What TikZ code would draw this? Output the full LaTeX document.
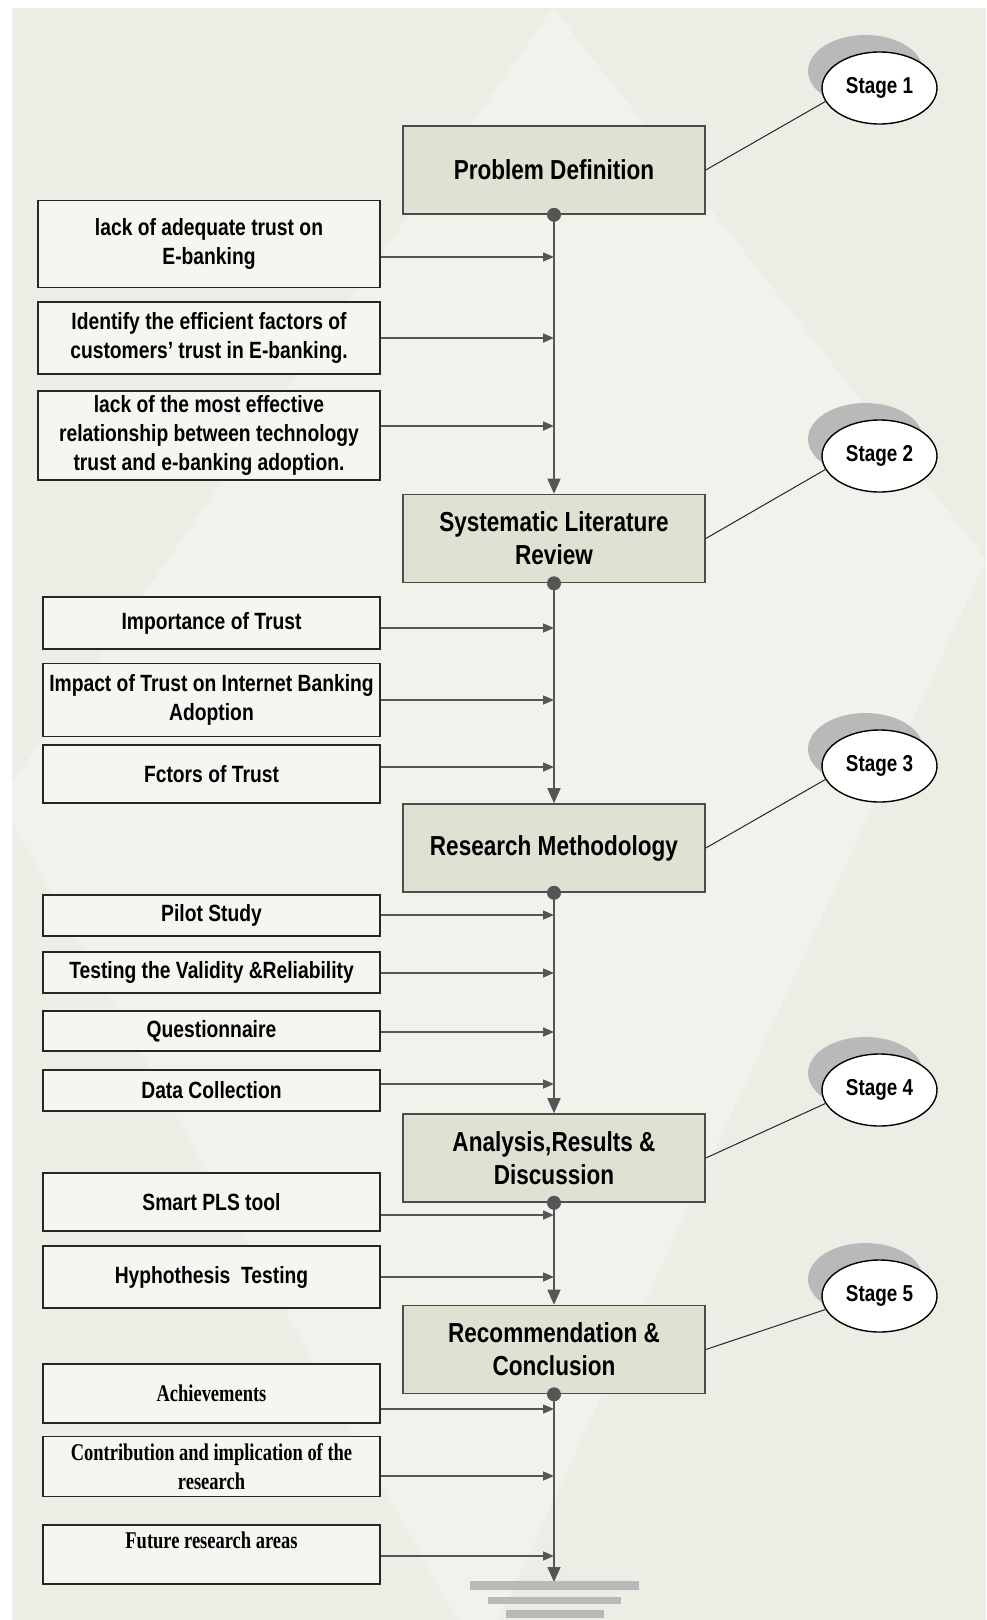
\documentclass[tikz,border=0pt]{standalone}
\usepackage{fontspec}
\usetikzlibrary{arrows.meta,shapes.geometric,shadows}
\newfontfamily\narrowsans{Liberation Sans}[FakeStretch=0.82]
\newfontfamily\narrowserif{Liberation Serif}[FakeStretch=0.77]
\definecolor{bgcol}{HTML}{ECEEE6}
\definecolor{bglight}{HTML}{F1F2EC}
\definecolor{stagefill}{HTML}{E0E1D3}
\definecolor{subfill}{HTML}{F5F6F1}
\definecolor{linecol}{HTML}{555555}
\definecolor{groundcol}{HTML}{B9B9B9}
\tikzset{
  stagebox/.style={draw=black!70,fill=stagefill,line width=1.6pt,minimum width=302pt,minimum height=88pt,
    align=center,inner sep=0pt,font={\narrowsans\bfseries\fontsize{27.5}{33}\selectfont}},
  subbox/.style={draw=black!85,fill=subfill,line width=1.8pt,minimum width=337pt,align=center,inner sep=0pt,
    font={\narrowsans\bfseries\fontsize{23.5}{29}\selectfont}},
  serifbox/.style={subbox,font={\narrowserif\bfseries\fontsize{24}{29}\selectfont}},
  stagetag/.style={ellipse,draw=black,fill=white,line width=1.4pt,minimum width=115pt,minimum height=72pt,inner sep=0pt,
    font={\narrowsans\bfseries\fontsize{23}{27}\selectfont},
    drop shadow={shadow xshift=-14pt,shadow yshift=17pt,fill=groundcol,opacity=1}},
  tagline/.style={draw=black!85,line width=1pt},
  feed/.style={draw=linecol,line width=1.5pt,-{Triangle[length=11pt,width=9pt]}},
  spine/.style={draw=linecol,line width=1.5pt,-{Triangle[length=15pt,width=13pt]}},
}
\begin{document}
\begin{tikzpicture}[x=1pt,y=-1pt]
  \useasboundingbox (0,0) rectangle (986,1620);
  % background
  \fill[bgcol] (12,8) rectangle (986,1620);
  \begin{scope}
    \clip (12,8) rectangle (986,1620);
    \fill[bglight] (553,8) -- (986,560) -- (480,1660) -- (0,800) -- cycle;
  \end{scope}

  % stages
  \node[stagebox] (pd) at (554,170) {Problem Definition};
  \node[stagebox] (slr) at (554,538.5) {Systematic Literature\\Review};
  \node[stagebox] (rm) at (554,848) {Research Methodology};
  \node[stagebox] (ard) at (554,1158) {Analysis,Results \&\\Discussion};
  \node[stagebox] (rc) at (554,1349.5) {Recommendation \&\\Conclusion};

  \node[stagetag] (s1) at (879.5,88) {Stage 1};
  \node[stagetag] (s2) at (879.5,456) {Stage 2};
  \node[stagetag] (s3) at (879.5,766) {Stage 3};
  \node[stagetag] (s4) at (879.5,1090) {Stage 4};
  \node[stagetag] (s5) at (879.5,1296) {Stage 5};
  \draw[tagline] (pd.east) -- (s1.194);
  \draw[tagline] (slr.east) -- (s2.194);
  \draw[tagline] (rm.east) -- (s3.194);
  \draw[tagline] (ard.east) -- (s4.194);
  \draw[tagline] (rc.east) -- (s5.194);

  % inputs
  \node[subbox,minimum width=342pt,minimum height=87pt] (b1) at (209,244) {lack of adequate trust on\\E-banking};
  \node[subbox,minimum width=342pt,minimum height=72pt] (b2) at (209,338) {Identify the efficient factors of\\customers’ trust in E-banking.};
  \node[subbox,minimum width=342pt,minimum height=89pt] (b3) at (209,435.5) {lack of the most effective\\relationship between technology\\trust and e-banking adoption.};
  \node[subbox,minimum height=52pt] (i1) at (211.5,623) {Importance of Trust};
  \node[subbox,minimum height=73pt] (i2) at (211.5,700) {Impact of Trust on Internet Banking\\Adoption};
  \node[subbox,minimum height=58pt] (i3) at (211.5,774) {Fctors of Trust};
  \node[subbox,minimum height=41pt] (m1) at (211.5,915.5) {Pilot Study};
  \node[subbox,minimum height=41pt] (m2) at (211.5,972.5) {Testing the Validity \&Reliability};
  \node[subbox,minimum height=40pt] (m3) at (211.5,1031) {Questionnaire};
  \node[subbox,minimum height=41pt] (m4) at (211.5,1090.5) {Data Collection};
  \node[subbox,minimum height=58pt] (a1) at (211.5,1202) {Smart PLS tool};
  \node[subbox,minimum height=62pt] (a2) at (211.5,1277) {Hyphothesis\ \ Testing};
  \node[serifbox,minimum height=59pt] (r1) at (211.5,1393.5) {Achievements};
  \node[serifbox,minimum height=60pt] (r2) at (211.5,1466.5) {Contribution and implication of the\\research};
  \node[serifbox,minimum height=59pt] (r3) at (211.5,1554.5) {Future research areas\\~};

  % feeds onto the spine
  \coordinate (tb1) at (554,257);
  \coordinate (tb2) at (554,338);
  \coordinate (tb3) at (554,426);
  \coordinate (ti1) at (554,628);
  \coordinate (ti2) at (554,700);
  \coordinate (ti3) at (554,767);
  \coordinate (tm1) at (554,915);
  \coordinate (tm2) at (554,973);
  \coordinate (tm3) at (554,1032);
  \coordinate (tm4) at (554,1084);
  \coordinate (ta1) at (554,1215);
  \coordinate (ta2) at (554,1277);
  \coordinate (tr1) at (554,1409);
  \coordinate (tr2) at (554,1476);
  \coordinate (tr3) at (554,1556);
  \foreach \n in {b1,b2,b3,i1,i2,i3,m1,m2,m3,m4,a1,a2,r1,r2,r3}
    \draw[feed] (\n.east |- t\n) -- (t\n);

  % spine
  \coordinate (gnd) at (554,1582);
  \draw[spine] (pd.south) -- (slr.north);
  \draw[spine] (slr.south) -- (rm.north);
  \draw[spine] (rm.south) -- (ard.north);
  \draw[spine] (ard.south) -- (rc.north);
  \draw[spine] (rc.south) -- (gnd);
  \foreach \n in {pd,slr,rm,ard,rc}
    \fill[linecol] (\n.south) circle (7pt);

  % ground
  \fill[groundcol] (470,1581) rectangle (639,1590);
  \fill[groundcol] (488,1597) rectangle (621,1604);
  \fill[groundcol] (506,1610) rectangle (604,1618);
\end{tikzpicture}
\end{document}
